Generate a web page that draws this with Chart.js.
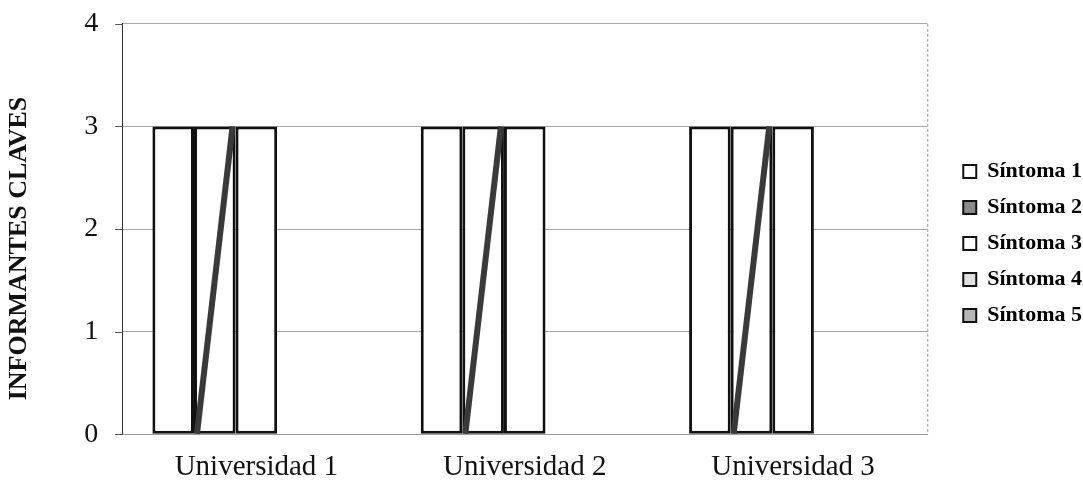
<!DOCTYPE html>
<html>
<head>
<meta charset="utf-8">
<script src="https://cdn.jsdelivr.net/npm/chart.js@4.4.1/dist/chart.umd.min.js"></script>
<style>
 body { margin: 0; background: #fff; }
 #box { width: 1083px; height: 493px; }
</style>
</head>
<body>
<div id="box"><canvas id="myChart"></canvas></div>
<script>
 // data
 var universidades = ["Universidad 1", "Universidad 2", "Universidad 3"];
 var sintomas = ["Síntoma 1", "Síntoma 2", "Síntoma 3", "Síntoma 4", "Síntoma 5"];
 var sintoma1 = [3, 3, 3];
 var sintoma2 = [3, 3, 3];
 var sintoma3 = [3, 3, 3];
 var sintoma4 = [0, 0, 0];
 var sintoma5 = [0, 0, 0];
 var yTicks = [0, 1, 2, 3, 4];

 var legendFill = ["#ffffff", "#8a8a8a", "#ffffff", "#e0e0e0", "#b5b5b5"];

 // the hatch of series 2 came out as one thick diagonal stroke in the scan
 var hatch = {
 id: "hatch",
 afterDatasetsDraw: function(chart) {
 var ctx = chart.ctx;
 var meta = chart.getDatasetMeta(1);
 meta.data.forEach(function(bar) {
 var p = bar.getProps(["x", "y", "base", "width"], true);
 ctx.save();
 ctx.strokeStyle = "#3a3a3a";
 ctx.lineWidth = 6;
 ctx.beginPath();
 ctx.moveTo(p.x - p.width / 2 + 3, p.base);
 ctx.lineTo(p.x + p.width / 2 - 3, p.y);
 ctx.stroke();
 ctx.restore();
 });
 }
 };

 // right edge of the plot frame + the short tick marks on the y axis
 var frame = {
 id: "frame",
 beforeDatasetsDraw: function(chart) {
 var a = chart.chartArea, ctx = chart.ctx, y = chart.scales.y;
 ctx.save();
 ctx.strokeStyle = "#999";
 ctx.lineWidth = 1;
 ctx.setLineDash([3, 2]);
 ctx.beginPath();
 ctx.moveTo(a.right + 0.5, a.top);
 ctx.lineTo(a.right + 0.5, a.bottom);
 ctx.stroke();
 ctx.setLineDash([]);
 ctx.strokeStyle = "#555";
 yTicks.forEach(function(v) {
 var py = Math.round(y.getPixelForValue(v)) + 0.5;
 ctx.beginPath();
 ctx.moveTo(a.left - 7, py);
 ctx.lineTo(a.left, py);
 ctx.stroke();
 });
 ctx.restore();
 }
 };

 // legend sits a bit further from the plot than chart.js puts it
 var legendShift = {
 id: "legendShift",
 afterLayout: function(chart) {
 chart.legend.left += 22;
 chart.legend.right += 22;
 chart.legend.top -= 4;
 chart.legend.bottom -= 4;
 }
 };

 var series = [sintoma1, sintoma2, sintoma3, sintoma4, sintoma5];
 var datasets = [];
 for (var i = 0; i < series.length; i++) {
 datasets.push({
 label: sintomas[i],
 data: series[i],
 backgroundColor: "#ffffff",
 borderColor: "#111111",
 borderWidth: 3,
 borderSkipped: false
 });
 }

 Chart.defaults.font.family = "'Liberation Serif', 'Times New Roman', serif";
 Chart.defaults.color = "#111";

 new Chart("myChart", {
 type: "bar",
 data: { labels: universidades, datasets: datasets },
 plugins: [hatch, frame, legendShift],
 options: {
 responsive: true,
 maintainAspectRatio: false,
 animation: false,
 categoryPercentage: 0.775,
 barPercentage: 1,
 layout: { padding: { top: 2, right: 13, bottom: 0, left: 4 } },
 plugins: {
 tooltip: { enabled: false },
 legend: {
 position: "right",
 labels: {
 boxWidth: 13,
 boxHeight: 13,
 padding: 14,
 font: { size: 22, weight: "bold" },
 generateLabels: function(chart) {
 return sintomas.map(function(s, k) {
 return {
 text: s,
 fillStyle: legendFill[k],
 strokeStyle: "#111",
 lineWidth: 2,
 datasetIndex: k
 };
 });
 }
 }
 }
 },
 scales: {
 x: {
 grid: { display: false },
 border: { color: "#999", dash: [3, 2] },
 ticks: { font: { size: 29 }, padding: 8 }
 },
 y: {
 min: 0,
 max: 4,
 afterBuildTicks: function(axis) {
 axis.ticks = yTicks.map(function(v) { return { value: v }; });
 },
 ticks: { font: { size: 28 }, padding: 7 },
 grid: { color: "#a8a8a8", lineWidth: 1, tickLength: 17, tickColor: "rgba(0,0,0,0)" },
 border: { color: "#333", width: 1 },
 title: {
 display: true,
 text: "INFORMANTES CLAVES      ",
 font: { size: 26, weight: "bold" },
 padding: { top: 0, bottom: 42 }
 }
 }
 }
 }
 });
</script>
</body>
</html>
